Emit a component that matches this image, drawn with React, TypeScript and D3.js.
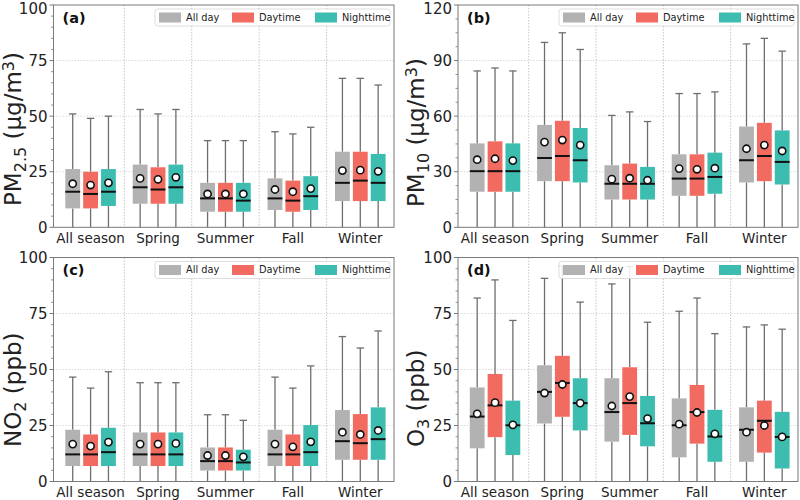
import React from "react";
import * as d3 from "d3";

const categories = ["All season", "Spring", "Summer", "Fall", "Winter"];
const seriesNames = ["All day", "Daytime", "Nighttime"];
const seriesColors = ["#b2b2b2", "#f26b61", "#3dbdaf"];

// PM2.5 (a)  [category][series]
const pm25Q1 = [[8.5, 8.5, 9.6], [10.6, 10.6, 10.6], [7, 7, 7], [7.8, 7, 7.8], [11.8, 11.8, 11.8]];
const pm25Q3 = [[26.2, 25, 26.2], [28.2, 27, 28.2], [20, 20, 20], [22, 21, 23], [34, 34, 33]];
const pm25Median = [[16, 15, 16], [18, 17, 18], [13, 13, 12], [13, 12, 14], [20, 21, 20]];
const pm25Mean = [[19.6, 19, 20], [22, 21.6, 22.5], [15, 15, 15], [17, 16, 17.4], [25.5, 25.7, 25.2]];
const pm25High = [[51, 49, 50], [53, 51, 53], [39, 39, 39], [43, 42, 45], [67, 67, 64]];
const pm25Low = [[0, 0, 0], [0, 0, 0], [0, 0, 0], [0, 0, 0], [0, 0, 0]];
const pm25Ticks = [0, 25, 50, 75, 100];

// PM10 (b)
const pm10Q1 = [[19.2, 19.2, 19.2], [24.9, 24.9, 24.2], [15, 15, 15], [17, 17, 18.1], [24.2, 24.9, 23.1]];
const pm10Q3 = [[45.3, 46.4, 45.3], [55.3, 57.5, 53.6], [33.5, 34.4, 32.6], [39.4, 39.4, 40.3], [54.4, 56.4, 52.3]];
const pm10Median = [[30.3, 30.3, 30.3], [37.4, 38.5, 36.2], [23.5, 23.5, 23.5], [26.3, 26.3, 27.2], [36.2, 38.5, 35.3]];
const pm10Mean = [[36.5, 37, 36], [46, 47.1, 44.4], [26, 26.5, 25.4], [31.7, 31.3, 31.9], [42.4, 44.4, 41.2]];
const pm10High = [[84.4, 86, 84.4], [99.8, 105, 96], [60.4, 62.3, 57.1], [72.2, 72.2, 73.1], [99, 102, 95.1]];
const pm10Low = [[0, 0, 0], [0, 0, 0], [0, 0, 0], [0, 0, 0], [0, 0, 0]];
const pm10Ticks = [0, 30, 60, 90, 120];

// NO2 (c)
const no2Q1 = [[6.9, 6.9, 6.9], [6.9, 6.9, 6.9], [4.9, 4.9, 4.9], [6.9, 6.9, 6.9], [9.7, 9.7, 9.7]];
const no2Q3 = [[23.1, 21, 24], [21.9, 21.9, 21.9], [15.2, 15.2, 14.2], [23.1, 21, 25.2], [31.9, 30.1, 33.1]];
const no2Median = [[12.1, 12.1, 13.1], [12.1, 12.1, 12.1], [9.1, 9.1, 8.5], [12.1, 12.1, 13.1], [18, 17.1, 18.9]];
const no2Mean = [[16.7, 15.8, 17.6], [16.7, 16.7, 17], [11.6, 11.6, 11], [16.7, 15.5, 17.7], [22, 21, 22.8]];
const no2High = [[46.6, 41.7, 49], [44.1, 44.1, 44.1], [29.8, 29.8, 27.3], [46.6, 41.7, 51.6], [64.7, 59.6, 67.2]];
const no2Low = [[0, 0, 0], [0, 0, 0], [0, 0, 0], [0, 0, 0], [0, 0, 0]];
const no2Ticks = [0, 25, 50, 75, 100];

// O3 (d)
const o3Q1 = [[14.8, 19.8, 11.8], [25.9, 28.9, 22.8], [17.8, 20.8, 15.7], [10.8, 16.9, 8.8], [8.8, 12.9, 5.8]];
const o3Q3 = [[42, 48, 36.1], [51.9, 56.1, 46.1], [46.1, 51, 38.2], [37.1, 43.1, 32], [33.1, 36.1, 31.1]];
const o3Median = [[29, 34, 25.1], [40, 44, 35], [31, 35, 26], [25.1, 31, 20.1], [23.1, 27.1, 19.9]];
const o3Mean = [[30.2, 35.2, 25.3], [39.5, 43.3, 35], [33.7, 37.9, 28.1], [25.6, 30.8, 21.3], [22, 25, 19.9]];
const o3High = [[81.9, 90, 71.9], [90.7, 96, 80.1], [88.2, 96, 71.1], [76, 81.9, 66], [69, 69.9, 68]];
const o3Low = [[0, 0, 0], [0, 0, 0], [0, 0, 0], [0, 0, 0], [0, 0, 0]];
const o3Ticks = [0, 25, 50, 75, 100];

const FONT = "DejaVu Sans, sans-serif";

type PanelProps = {
  left: number; right: number; top: number; bottom: number;
  q1: number[][]; q3: number[][]; med: number[][]; mean: number[][]; hi: number[][]; lo: number[][];
  ticks: number[]; minorStep: number; tag: string;
  label: React.ReactNode; labelX: number; labelY: number;
};

function Panel(p: PanelProps) {
  const x = d3.scaleLinear().domain([-0.55, 4.5]).range([p.left, p.right]);
  const ymax = p.ticks[p.ticks.length - 1];
  const y = d3.scaleLinear().domain([0, ymax]).range([p.bottom, p.top]);
  const unit = x(1) - x(0);
  const offsets = [-0.265, 0, 0.265];
  const bw = 0.22 * unit;
  const capw = bw * 0.5;
  const minors = d3.range(0, ymax + 1e-6, p.minorStep).filter((v) => !p.ticks.some((t) => Math.abs(t - v) < 1e-6));
  const bounds = [0.5, 1.5, 2.5, 3.5];

  const legW = 235, legH = 17;
  const legX = p.right - 4 - legW, legY = p.top + 4;
  const legOff = [4, 77, 160];
  const tickFont = 15;

  return (
    <g fontFamily={FONT}>
      {p.ticks.slice(1, -1).map((t) => (
        <line key={"hg" + t} x1={p.left} x2={p.right} y1={y(t)} y2={y(t)} stroke="#d0d0d0" strokeWidth={0.8} strokeDasharray="1.5,1.5" />
      ))}
      {bounds.map((b) => (
        <line key={"vg" + b} x1={x(b)} x2={x(b)} y1={p.top} y2={p.bottom} stroke="#b8b8b8" strokeWidth={0.8} strokeDasharray="1.5,1.5" />
      ))}
      {categories.map((c, ci) =>
        seriesNames.map((s, si) => {
          const cx = x(ci + offsets[si]);
          return (
            <g key={c + s}>
              <line x1={cx} x2={cx} y1={y(p.q3[ci][si])} y2={y(p.hi[ci][si])} stroke="#6e6e6e" strokeWidth={1.3} />
              <line x1={cx} x2={cx} y1={y(p.q1[ci][si])} y2={y(p.lo[ci][si])} stroke="#6e6e6e" strokeWidth={1.3} />
              <line x1={cx - capw / 2} x2={cx + capw / 2} y1={y(p.hi[ci][si])} y2={y(p.hi[ci][si])} stroke="#6e6e6e" strokeWidth={1.3} />
              <rect x={cx - bw / 2} width={bw} y={y(p.q3[ci][si])} height={y(p.q1[ci][si]) - y(p.q3[ci][si])} fill={seriesColors[si]} />
              <line x1={cx - bw / 2} x2={cx + bw / 2} y1={y(p.med[ci][si])} y2={y(p.med[ci][si])} stroke="#111" strokeWidth={2} />
              <circle cx={cx} cy={y(p.mean[ci][si])} r={3.6} fill="#fff" stroke="#111" strokeWidth={1.6} />
            </g>
          );
        })
      )}
      <rect x={p.left} y={p.top} width={p.right - p.left} height={p.bottom - p.top} fill="none" stroke="#7a7a7a" strokeWidth={1} />
      {p.ticks.map((t) => (
        <g key={"yt" + t}>
          <line x1={p.left - 4} x2={p.left} y1={y(t)} y2={y(t)} stroke="#7a7a7a" strokeWidth={1} />
          <text x={p.left - 6} y={Math.max(y(t) + tickFont * 0.36, tickFont * 0.95)} textAnchor="end" fontSize={tickFont} fill="#222">{t}</text>
        </g>
      ))}
      {minors.map((t) => (
        <line key={"mt" + t} x1={p.left - 2.5} x2={p.left} y1={y(t)} y2={y(t)} stroke="#7a7a7a" strokeWidth={0.8} />
      ))}
      {categories.map((c, ci) => (
        <text key={"xl" + c} x={x(ci)} y={p.bottom + 15.5} textAnchor="middle" fontSize={13.5} fill="#222">{c}</text>
      ))}
      <text x={p.left + 9} y={p.top + 17.5} fontSize={14.5} fontWeight="bold" fill="#111">{p.tag}</text>
      <text transform={`translate(${p.labelX},${p.labelY}) rotate(-90)`} textAnchor="start" fontSize={23} fill="#222">
        {p.label}
      </text>
      <rect x={legX} y={legY} width={legW} height={legH} rx={2.5} fill="#fff" fillOpacity={0.85} stroke="#d4d4d4" strokeWidth={0.8} />
      {seriesNames.map((s, si) => (
        <g key={"lg" + s}>
          <rect x={legX + legOff[si]} y={legY + 3.5} width={22} height={10} fill={seriesColors[si]} />
          <text x={legX + legOff[si] + 27} y={legY + 8.5} dy="0.35em" fontSize={9.8} fill="#222">{s}</text>
        </g>
      ))}
    </g>
  );
}

const sub = 16;

export default function App() {
  return (
    <svg width={800} height={500} style={{ position: "absolute", left: 0, top: 0, background: "#fff" }}>
      <rect width={800} height={500} fill="#fff" />
      <Panel left={53.5} right={394} top={5} bottom={227.3}
        q1={pm25Q1} q3={pm25Q3} med={pm25Median} mean={pm25Mean} hi={pm25High} lo={pm25Low}
        ticks={pm25Ticks} minorStep={5} tag="(a)" labelX={21} labelY={206}
        label={<><tspan>PM</tspan><tspan dy={5} fontSize={sub}>2.5</tspan><tspan dy={-5}> (μg/m</tspan><tspan dy={-7} fontSize={sub}>3</tspan><tspan dy={7}>)</tspan></>} />
      <Panel left={458} right={798} top={5} bottom={227.3}
        q1={pm10Q1} q3={pm10Q3} med={pm10Median} mean={pm10Mean} hi={pm10High} lo={pm10Low}
        ticks={pm10Ticks} minorStep={7.5} tag="(b)" labelX={424} labelY={207}
        label={<><tspan>PM</tspan><tspan dy={5} fontSize={sub}>10</tspan><tspan dy={-5}> (μg/m</tspan><tspan dy={-7} fontSize={sub}>3</tspan><tspan dy={7}>)</tspan></>} />
      <Panel left={53.5} right={394} top={257.5} bottom={481.5}
        q1={no2Q1} q3={no2Q3} med={no2Median} mean={no2Mean} hi={no2High} lo={no2Low}
        ticks={no2Ticks} minorStep={5} tag="(c)" labelX={21} labelY={447}
        label={<><tspan>NO</tspan><tspan dy={5} fontSize={sub}>2</tspan><tspan dy={-5}> (ppb)</tspan></>} />
      <Panel left={458} right={798} top={257.5} bottom={481.5}
        q1={o3Q1} q3={o3Q3} med={o3Median} mean={o3Mean} hi={o3High} lo={o3Low}
        ticks={o3Ticks} minorStep={5} tag="(d)" labelX={424} labelY={447}
        label={<><tspan>O</tspan><tspan dy={5} fontSize={sub}>3</tspan><tspan dy={-5}> (ppb)</tspan></>} />
    </svg>
  );
}
